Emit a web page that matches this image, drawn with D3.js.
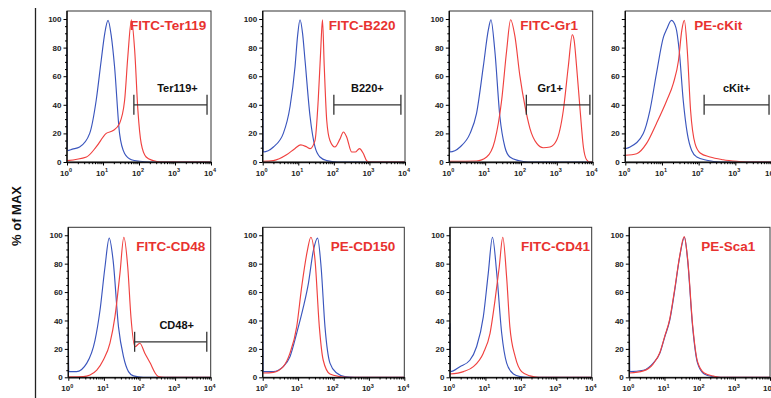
<!DOCTYPE html>
<html><head><meta charset="utf-8">
<script src="https://cdn.jsdelivr.net/npm/d3@7"></script>
<style>html,body{margin:0;padding:0;background:#fff;}svg{display:block;}</style>
</head><body>
<svg id="c" width="771" height="398"></svg>
<script>
// ---------- DATA ----------
const categories = ["FITC-Ter119","FITC-B220","FITC-Gr1","PE-cKit","FITC-CD48","PE-CD150","FITC-CD41","PE-Sca1"];
const yTicks = [0,20,40,60,80,100];
const xTicks = [1,10,100,1000,10000];
const xTickExp = ["0","1","2","3","4"];
const yLabel = "% of MAX";

// control (blue) histograms: [fluorescence intensity, % of max]
const blueTer119 = [[1,80],[1.03,8],[1.41,9],[2.24,10.5],[4.27,20],[6.46,43],[8.91,71],[11.2,90],[13.8,99],[17,88],[20.9,67],[28.8,20],[39.8,6],[61.7,1.6],[105,0.5],[200,0],[10000,0]];
const blueB220 = [[1,57],[1.03,7],[2,10.5],[3.8,20],[5.89,39],[8.13,67],[9.55,88],[11.2,99.5],[13.2,90],[15.5,71],[21.4,32],[29.5,10.5],[40.7,3.5],[63,1],[126,0],[10000,0]];
const blueGr1 = [[1,83],[1.03,7],[2,10.5],[3.8,20],[5.75,34],[8.91,67],[12.3,92.5],[14.5,99.5],[18.6,78],[25.7,32],[35.5,10.5],[49,3.5],[85,1],[158,0],[10000,0]];
const blueCKit = [[1,9.3],[1.35,10.5],[3.09,20],[4.68,36],[7.08,62],[11,87.5],[13.5,93],[18.2,99],[24,94],[29.5,78],[38,43],[49,20],[64.6,8],[89,3.5],[166,1.2],[398,0],[10000,0]];
const blueCD48 = [[1,30.8],[1.03,4],[1.7,4],[3.31,10],[5.62,26],[7.76,47],[10.7,77.5],[14.1,98],[18.2,82],[25.7,35.5],[35.5,14.5],[49,4],[67.6,1],[126,0],[10000,0]];
const blueCD150 = [[1,48],[1.03,4],[2,4],[3.8,7.5],[5.89,14.5],[9.12,31],[14.1,49.5],[19.5,66],[26.9,89],[35.5,98],[44.7,77.5],[57.5,35.5],[79.4,10],[123,3],[209,0.5],[398,0],[10000,0]];
const blueCD41 = [[1,38],[1.03,4],[1.9,7.5],[3.63,12],[5.62,21.5],[8.71,42.5],[12,73],[15.8,98.6],[20.9,73],[28.8,31],[39.8,10],[61.7,2.3],[95.5,0.5],[158,0],[10000,0]];
const blueSca1 = [[1,49.5],[1.03,4],[2.51,5],[4.79,10],[7.41,17],[10.2,28.5],[14.1,40],[19.5,61],[26.9,84.5],[37.2,98.6],[45.7,82],[63.1,35.5],[87.1,10],[135,2.3],[229,0.5],[398,0],[10000,0]];

// stained (red) histograms
const redTer119 = [[1,1],[3.47,3.5],[6.46,10.5],[12.3,20],[19.1,22],[28.8,27],[39.8,43],[49,74],[61.7,99.5],[75.9,78],[93.3,36],[115,13],[158,3.5],[245,1],[400,0],[10000,0]];
const redB220 = [[1,0.5],[2,1],[4.68,5],[8.13,9.5],[11.7,12],[17.4,10.5],[21.4,9.4],[29.5,15],[36.3,43],[42.7,78],[47.9,99.5],[53.7,67],[63.1,29],[77.6,15],[107,10.5],[148,16],[186,21],[229,17.5],[316,7],[398,7],[525,9.4],[676,5.9],[832,1],[1000,0],[10000,0]];
const redGr1 = [[1,0.5],[5.75,0.7],[11,3.5],[18.6,15],[28.8,43],[39.8,78],[51.3,99.5],[67.6,88],[93.3,60],[129,39],[178,23.4],[275,13],[417,10],[646,10.5],[977,15],[1514,36],[2089,67],[2692,89],[3020,85.5],[3548,67],[4467,36],[5495,10.5],[6761,1.6],[8318,0],[10000,0]];
const redCKit = [[1,4.7],[2.04,5.8],[3.8,13],[7.08,27],[13.5,43],[20.4,55],[28.2,71],[34.7,92],[40.7,99],[49,78],[60.3,36],[79.4,13],[110,6.3],[204,3.5],[468,1.6],[1096,0.5],[2000,0],[10000,0]];
const redCD48 = [[1,0.3],[2.63,0.5],[4.07,1.6],[6.31,5],[9.55,12],[14.8,24],[20.4,42.5],[28.2,73],[36.3,98.6],[46.8,77.5],[57.5,42.5],[74.1,21.5],[102,24],[141,17],[200,10],[275,3],[339,0.5],[500,0],[10000,0]];
const redCD150 = [[1,3],[2,3.5],[3.8,7.5],[5.89,17],[9.12,35.5],[12.6,63.5],[18.2,89],[22.9,98.6],[30.2,82],[39.8,35.5],[51.3,12],[79.4,2.3],[151,0.5],[251,0],[10000,0]];
const redCD41 = [[1,2.3],[2.4,4],[4.57,7.5],[8.71,17],[13.5,31],[18.6,54],[24.5,77.5],[30.9,98.6],[39.8,70],[49,35.5],[69.2,14.5],[105,4],[182,1],[316,0],[10000,0]];
const redSca1 = [[1,3],[2.51,4.5],[4.79,9.5],[7.41,17.5],[10.2,29],[14.1,41],[19.5,62],[26.9,85],[36.3,99],[45.7,83],[63.1,37],[87.1,11],[135,3],[251,0.8],[398,0],[10000,0]];

const blueSeries = [blueTer119, blueB220, blueGr1, blueCKit, blueCD48, blueCD150, blueCD41, blueSca1];
const redSeries = [redTer119, redB220, redGr1, redCKit, redCD48, redCD150, redCD41, redSca1];

// positive gates
const gateLabels = ["Ter119+","B220+","Gr1+","cKit+","CD48+",null,null,null];
const gateLow = [72,100,141,141,73,null,null,null];
const gateHigh = [7760,7670,8350,8300,7760,null,null,null];
const gateLevel = [40,40,40,40,25,null,null,null];

// ---------- LAYOUT ----------
const svg = d3.select("#c");
const FONT = "'Liberation Sans', Arial, Helvetica, sans-serif";
const BLUE = "#3a55bd", RED = "#f0413f", TITLE_RED = "#e8322f";
const panelLeft = [67, 262.7, 449.3, 625.3, 68.3, 262.7, 450, 629.3];
const panelRight = [211, 405, 592.7, 772, 210.7, 404.3, 591.7, 770];
const rowBottom = [162, 377.3], rowTop = [11, 227.3];
const titleOffset = [18.5, 23.4];
const titleDx = [63, 66, 71, 69, 68, 68, 71, 72];
const gateLabelDx = [7, 0, -8, 0, 6, 0, 0, 0];

// left frame line and y label
svg.append("line").attr("x1",35.5).attr("x2",35.5).attr("y1",8).attr("y2",398)
  .attr("stroke","#222").attr("stroke-width",1.3);
svg.append("text").attr("transform","translate(21,216) rotate(-90)")
  .attr("text-anchor","middle").attr("font-family",FONT).attr("font-weight","bold")
  .attr("font-size",13).attr("fill","#111").text(yLabel);

const minorX = [];
for (let k=0;k<4;k++) for (let m=2;m<=9;m++) minorX.push(m*Math.pow(10,k));
const minorY = d3.range(0,101,5).filter(v=>v%20!==0);

categories.forEach((name,i)=>{
  const row = i<4?0:1;
  const x = d3.scaleLog().domain([1,10000]).range([panelLeft[i], panelRight[i]]);
  const y = d3.scaleLinear().domain([0,105.6]).range([rowBottom[row], rowTop[row]]);
  const g = svg.append("g");

  // curves
  const line = d3.line().x(d=>x(d[0])).y(d=>y(d[1])).curve(d3.curveMonotoneX);
  g.append("path").datum(blueSeries[i]).attr("d",line).attr("fill","none")
    .attr("stroke",BLUE).attr("stroke-width",1.15);
  g.append("path").datum(redSeries[i]).attr("d",line).attr("fill","none")
    .attr("stroke",RED).attr("stroke-width",1.15);

  // box
  g.append("rect").attr("x",x.range()[0]).attr("y",y.range()[1])
    .attr("width",x.range()[1]-x.range()[0]).attr("height",y.range()[0]-y.range()[1])
    .attr("fill","none").attr("stroke","#333").attr("stroke-width",1);

  // y axis
  const ya = g.append("g").attr("transform",`translate(${x.range()[0]},0)`)
    .call(d3.axisLeft(y).tickValues(yTicks).tickSize(3.5).tickSizeOuter(0).tickPadding(2)
      .tickFormat(v=> (i===3 && v===100) ? "" : v));
  g.append("g").attr("transform",`translate(${x.range()[0]},0)`)
    .call(d3.axisLeft(y).tickValues(minorY).tickSize(2).tickFormat(""))
    .call(s=>s.select(".domain").remove());
  ya.select(".domain").attr("stroke","#111").attr("stroke-width",1.4).attr("d",`M0,${y.range()[0]}V${y.range()[1]}`);
  ya.selectAll("text").attr("font-family",FONT).attr("font-weight","bold").attr("font-size",8).attr("fill","#222");

  // x axis
  const xa = g.append("g").attr("transform",`translate(0,${y.range()[0]})`)
    .call(d3.axisBottom(x).tickValues(xTicks).tickSize(3.5).tickSizeOuter(0).tickFormat(""));
  xa.select(".domain").attr("stroke","#111").attr("stroke-width",1.4);
  g.append("g").attr("transform",`translate(0,${y.range()[0]})`)
    .call(d3.axisBottom(x).tickValues(minorX).tickSize(2.2).tickFormat(""))
    .call(s=>s.select(".domain").remove());
  xTicks.forEach((t,k)=>{
    const tx = g.append("text").attr("x",x(t)-1).attr("y",y.range()[0]+13.5)
      .attr("text-anchor","middle").attr("font-family",FONT).attr("font-weight","bold")
      .attr("font-size",8).attr("fill","#222");
    tx.append("tspan").text("10");
    tx.append("tspan").attr("dy",-3.2).attr("font-size",5.5).text(xTickExp[k]);
  });

  // title
  g.append("text").attr("x",x.range()[0]+titleDx[i]).attr("y",y.range()[1]+titleOffset[row])
    .attr("font-family",FONT).attr("font-weight","bold").attr("font-size",13.5)
    .attr("fill",TITLE_RED).text(name);

  // gate
  if (gateLabels[i]) {
    const gy = y(gateLevel[i]), x0 = x(gateLow[i]), x1 = x(gateHigh[i]);
    const gg = g.append("g").attr("stroke","#333").attr("stroke-width",1.3);
    gg.append("line").attr("x1",x0).attr("x2",x1).attr("y1",gy).attr("y2",gy);
    gg.append("line").attr("x1",x0).attr("x2",x0).attr("y1",gy-10).attr("y2",gy+10);
    gg.append("line").attr("x1",x1).attr("x2",x1).attr("y1",gy-10).attr("y2",gy+10);
    g.append("text").attr("x",(x0+x1)/2+gateLabelDx[i]).attr("y",gy-13).attr("text-anchor","middle")
      .attr("font-family",FONT).attr("font-weight","bold").attr("font-size",11)
      .attr("fill","#111").text(gateLabels[i]);
  }
});
</script>
</body></html>
